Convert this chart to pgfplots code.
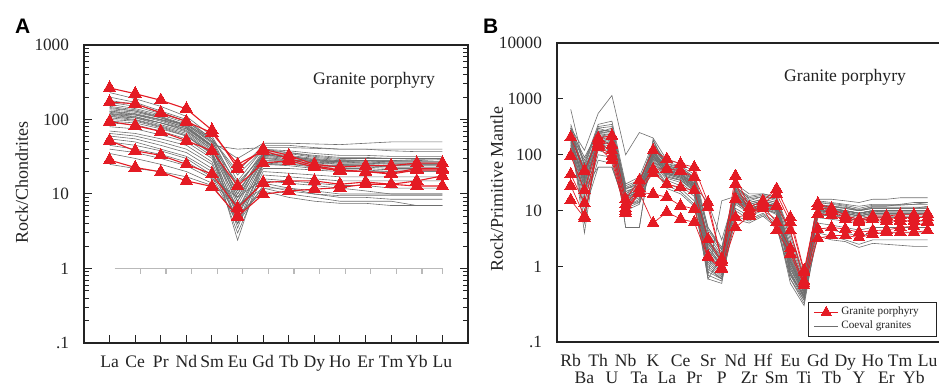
\documentclass[border=0pt]{standalone}
\usepackage{pgfplots}
\usepackage{pgfplotstable}
\pgfplotsset{compat=1.18}
\usepackage{fontspec}
\setmainfont{Liberation Serif}
\newfontfamily\panelfont{Liberation Sans}
\definecolor{porred}{RGB}{228,27,36}
\definecolor{coeval}{RGB}{110,110,110}
\definecolor{axcol}{RGB}{35,35,35}

% ---------- Panel A: coeval granites (chondrite normalised); one row per sample ----------
\pgfplotstableread{
La  Ce  Pr  Nd  Sm  Eu  Gd  Tb  Dy  Ho  Er  Tm  Yb  Lu
230 190 150 110 60  15  40  38  35  33  33  32  32  32
200 170 130 100 55  12  38  36  32  30  30  30  30  30
180 160 125 95  52  10  36  35  31  29  28  28  28  29
150 135 110 85  48  8   35  33  30  28  28  27  27  27
140 130 105 80  45  9   33  32  29  27  27  26  26  26
130 120 100 78  44  7   32  30  28  26  26  25  25  25
125 115 95  75  42  6   30  29  27  25  25  24  24  24
120 110 90  70  40  11  30  28  26  25  24  23  23  23
115 105 85  68  38  5   28  27  25  24  24  23  23  23
110 100 82  65  36  4   27  26  24  23  23  22  22  22
105 98  80  62  35  3.5 26  25  23  22  22  21  21  21
100 95  78  60  34  2.4 25  24  22  21  21  20  20  20
135 125 105 85  55  20  45  45  42  40  40  38  37  37
120 115 100 85  50  30  48  48  47  46  48  50  50  50
110 105 90  75  45  40  42  42  41  40  40  40  40  40
95  90  75  60  35  8   28  28  28  27  28  28  29  30
90  85  70  55  32  6   25  25  24  24  24  24  25  25
80  75  62  50  30  5   22  22  21  20  20  20  20  20
70  65  55  45  27  4   20  19  18  17  17  17  17  17
65  60  50  40  25  3   18  17  16  15  15  15  15  15
60  55  45  36  22  6   15  14  13  12  11  10  10  10
55  50  40  32  20  7   12  10  9   8   8   8   7   7
50  45  38  30  18  5   11  9   8   7.5 7.5 7   7   7
45  40  34  27  17  4   13  11  10  9   9   8.5 8.5 8.5
40  36  30  24  16  9   16  15  14  13  13  12  12  12
35  30  25  20  14  7   14  12  10  9.5 9.5 9.5 9.5 9.5
25  22  20  17  13  5   12  12  11  10  10  10  10  10
160 140 115 90  50  13  35  32  29  27  26  26  26  26
170 150 120 95  55  18  40  36  33  31  31  30  30  30
145 130 108 82  45  10  34  31  28  27  27  27  27  27
128 118 98  78  43  14  33  31  29  28  28  27  27  27
118 108 90  72  40  9   31  29  27  26  26  26  26  26
}\greyAraw
\pgfplotstabletranspose{\greyA}{\greyAraw}

% ---------- Panel A: granite porphyry ----------
\pgfplotstableread{
La   Ce   Pr   Nd  Sm   Eu   Gd   Tb  Dy   Ho   Er   Tm   Yb   Lu
265  222  181  139 72   22   40   33  25   23   24   24   26   26
171  163  123  94  66   25   38   30  24   21   20   19   22   22
94   83   69   52  38   12.8 26   28  23   20.5 20   18.5 21   21
52   38   33   25  18.5 6.5  14.2 15  15   13.5 14.5 13.5 15   17.5
28.5 22.7 19.8 15  12.6 5.0  9.9  11  11.6 12.2 13.5 13.5 12.8 12.8
}\redAraw
\pgfplotstabletranspose{\redA}{\redAraw}

% ---------- Panel B: coeval granites (primitive mantle normalised) ----------
\pgfplotstableread{
Rb  Ba  Th  U    Nb  Ta  K   La Ce Pr Sr  P   Nd Zr  Hf   Sm   Eu  Ti   Gd   Tb  Dy   Y   Ho   Er   Tm   Yb   Lu
650 60  300 250  25  30  150 70 60 40 3   1.5 25 15  18   15   2   0.5  14   13  12   10  12   12   13   13   14
300 120 550 1150 100 250 200 80 70 50 5   2   30 20  20   18   3   0.6  16   16  15   14  16   16   17   17   17
250 50  250 300  20  30  120 60 50 35 2.5 1.2 22 14  16   14   1.5 0.4  12   12  11   10  11   11   11   11   11
280 40  220 200  18  25  110 55 45 30 2   1   20 12  14   12   1.2 0.35 11   11  10   9   10   10   10   10   10
220 30  200 180  22  28  100 50 42 28 1.5 0.8 18 11  13   11   1   0.3  10   10  9    8   9    9    9    9    9
200 25  180 160  16  22  90  45 38 25 1.2 0.7 16 10  12   10   0.8 0.28 9.5  9   8.5  7.5 8.5  8.5  8.5  8.5  8.5
180 20  160 140  15  20  85  40 35 22 1   0.6 15 9   11   9    0.7 0.25 9    8.5 8    7   8    8    8    8    8
350 70  350 400  30  40  160 75 62 45 4   1.8 28 16  18   16   2.5 0.55 13   12  11   10  11   11   11   11   12
320 45  280 260  24  32  130 65 55 38 3   1.4 24 13  15   13   1.8 0.45 12   11  10   9   10   10   10   10   10
260 35  240 220  20  26  115 58 48 32 2.2 1.1 21 12  14   12   1.3 0.4  11   10.5 10  9   10   9.5  9.5  9.5  9.5
240 55  230 210  19  24  125 52 44 30 2.8 1.3 19 11  13   11.5 1.6 0.42 10   9.5 9    8   9    9    9    9    9
210 32  210 190  17  23  105 48 40 27 1.8 0.9 17 10.5 12.5 10.5 1.1 0.33 9.8 9.5 9    8   9    9    9    9    9
190 28  190 170  15  18  95  42 36 24 1.4 0.8 14 9.5 11.5 9.5  0.9 0.3  8.5  8   7.5  6.5 7.5  7.5  7.5  7.5  7.5
170 22  150 120  14  17  80  38 32 20 1.1 0.65 13 9  11   8.5  0.75 0.27 7.5 7   6.5  6   6.5  6.5  6.5  6.5  6.5
300 40  260 240  5   5   180 60 50 34 2.6 1.2 20 12  14   12   1.4 0.4  11   11  10   9   10   10   10   10   10
270 38  240 230  5   5   190 56 46 31 2.3 1.0 19 11  13   11   1.2 0.38 10   10  9.5  8.5 9.5  9.5  9.5  9.5  9.5
160 18  120 100  12  15  75  35 28 18 0.8 0.6 11 8   10   7    0.6 0.22 6    5.5 5    4.5 5    5    5    5    5
150 15  100 90   11  14  70  30 25 15 0.6 0.5 10 7   9    6    0.5 0.2  5    4.5 4    3.5 4    4    4    4    4
140 12  80  70   10  13  65  28 22 13 0.7 0.55 8 6.5 8.5  5.5  0.6 0.25 4    3.5 3    2.5 3    3    3    3    3
130 10  60  60   13  14  60  25 20 12 0.9 0.6 7  6   8    5    0.7 0.3  3.5  3   2.8  2.2 2.6  2.5  2.4  2.3  2.3
230 4   200 150  16  20  95  44 38 25 0.6 1.5 16 10  12   10   0.9 0.35 9    8.5 8    7   8    8    8    8    8
260 6   220 170  17  22  100 47 40 27 0.7 15  18 11  13   11   1   0.36 10   9.5 9    8   9    9    9    9    9
200 60  170 150  18  21  110 50 42 28 14  3   20 12  14   12   2   0.5  11   10.5 10  9   10   10   10   10   10
280 90  260 280  26  33  140 68 58 40 5   2.2 26 18  20   17   4   0.7  15   14  13   12  13   13   13   14   14
240 80  300 320  28  35  135 64 54 36 4.5 2   25 17  19   16   3.5 0.65 14   13.5 12.5 11 12.5 12.5 12.5 13   13
220 45  250 260  22  26  115 54 45 30 3.5 1.6 22 13  15   13   2.2 0.5  12   11.5 11  10  11   11   11   11   11
300 65  320 350  25  28  150 62 52 36 2.8 1.3 23 14  16   14   1.9 0.48 12.5 12  11.5 10.5 11.5 11.5 11.5 11.5 11.5
190 35  140 110  14  19  90  46 40 26 1.6 0.9 17 10  12   10   1.2 0.32 10.5 10  9.5  8.5 9.5  10   10   10   10
210 25  60  60   12  16  100 40 35 23 1.3 0.75 15 9  11   9    0.8 0.28 8.5  8   7.5  6.5 7.5  7.5  7.5  7.5  7.5
250 50  200 100  19  23  110 52 44 29 2.0 1.0 20 12  14   12   1.3 0.38 11   10.5 10  9   10   10   10   10   10
}\greyBraw
\pgfplotstabletranspose{\greyB}{\greyBraw}

% ---------- Panel B: granite porphyry ----------
\pgfplotstableread{
Rb   Ba   Th  U   Nb Ta K   La   Ce   Pr   Sr   P    Nd   Zr   Hf   Sm   Eu  Ti   Gd   Tb  Dy  Y   Ho  Er  Tm  Yb  Lu
205  52   200 220 16 35 120 84   69   60   14   1.35 42   11.5 15   24.5 7.6 0.85 13.5 11  8.2 7   8   8   8.5 8.5 8.8
96   23   180 150 13 25 55  56   52   40   11.5 1.3  30   10   13.5 20   6.2 0.8  12   10  7.6 6.6 7.6 7.2 7.5 7.5 7.6
45   13.5 160 120 11 22 47  30   26   23   3.1  1.2  16.3 9    12.5 12.3 4.4 0.55 8.8  8.2 7   6.2 7   6.6 6.6 6.6 6.6
28   8    150 95  10 21 20  17.4 12.3 10.8 1.5  0.95 7.6  8.5  12   6.2  2.1 0.5  4.7  5.0 4.7 4.1 4.4 4.5 5   5.3 6.2
15.5 7.5  140 80  9  21 6   9.4  7.1  6.2  1.45 0.9  5.0  8    11   4.4  1.7 0.46 3.2  3.6 3.6 3.3 3.8 4.1 4.1 4.1 4.4
}\redBraw
\pgfplotstabletranspose{\redB}{\redBraw}

\pgfplotsset{
  greyline/.style={coeval, line width=0.3pt, forget plot},
  tri/.style={mark=triangle*, mark options={solid, fill=porred, draw=porred, line width=0pt}},
}
\newcommand{\lo}[1]{\raisebox{-8.3pt}{#1}}

\begin{document}
\begin{tikzpicture}
\path[use as bounding box] (0pt,0pt) rectangle (469.5pt,192.5pt);

% ================= Panel A =================
\begin{axis}[
  at={(42pt,21pt)}, anchor=south west, scale only axis,
  width=192pt, height=149pt,
  xmin=-1, xmax=14,
  ymode=log, ymin=0.1, ymax=1000,
  ytick={0.1,1,10,100,1000},
  yticklabels={.1,1,10,100,1000},
  minor ytick={0.2,0.3,0.4,0.5,0.6,0.7,0.8,0.9,2,3,4,5,6,7,8,9,20,30,40,50,60,70,80,90,200,300,400,500,600,700,800,900},
  xtick={0,1,2,3,4,5,6,7,8,9,10,11,12,13},
  xticklabels={La,Ce,Pr,Nd,Sm,Eu,Gd,Tb,Dy,Ho,Er,Tm,Yb,Lu},
  tick align=inside, xtick pos=left, ytick pos=both,
  major tick length=4pt, minor tick length=2.6pt,
  tick style={axcol, line width=0.5pt},
  axis line style={axcol, line width=0.7pt},
  yticklabel style={font=\fontsize{8.6}{10}\selectfont, xshift=-4pt, text=axcol},
  xticklabel style={font=\fontsize{8.8}{10}\selectfont, anchor=base, yshift=-12.5pt, text=axcol},
]
\pgfplotsinvokeforeach{1,...,32}{
  \addplot[greyline] table[x expr=\coordindex, y index=#1]{\greyA};
}
\addplot[gray!55, line width=0.6pt, mark=|, mark size=1.4pt, mark indices={2,...,14},
  mark options={yshift=-1.4pt}, forget plot]
  coordinates {(0.2,1)(1.2,1)(2.2,1)(3.2,1)(4.2,1)(5.2,1)(6.2,1)(7.2,1)(8.2,1)(9.2,1)(10.2,1)(11.2,1)(12.2,1)(13,1)};
\pgfplotsinvokeforeach{1,...,5}{
  \addplot[porred, line width=0.55pt, tri, mark size=3.6pt, forget plot] table[x expr=\coordindex, y index=#1]{\redA};
}
\node[anchor=base east, font=\fontsize{8.8}{10}\selectfont, text=axcol] at (axis description cs:0.932,0.869) {Granite porphyry};
\end{axis}

% ================= Panel B =================
\begin{axis}[
  at={(278.5pt,21.5pt)}, anchor=south west, scale only axis,
  width=191.5pt, height=149.5pt,
  xmin=-1, xmax=26.9,
  ymode=log, ymin=0.0447, ymax=10000,
  ytick={0.0447,1,10,100,1000,10000},
  yticklabels={.1,1,10,100,1000,10000},
  minor ytick={},
  xtick={0,1,...,26},
  xticklabels={Rb,\lo{Ba},Th,\lo{U},Nb,\lo{Ta},K,\lo{La},Ce,\lo{Pr},Sr,\lo{P},Nd,\lo{Zr},Hf,\lo{Sm},Eu,\lo{Ti},Gd,\lo{Tb},Dy,\lo{Y},Ho,\lo{Er},Tm,\lo{Yb},Lu},
  tick align=inside, xtick pos=left, ytick pos=left,
  major tick length=3.2pt,
  major x tick style={draw=none},
  tick style={axcol, line width=0.5pt},
  axis line style={axcol, line width=0.7pt},
  yticklabel style={font=\fontsize{8.6}{10}\selectfont, xshift=-4pt, text=axcol},
  xticklabel style={font=\fontsize{8.8}{10}\selectfont, anchor=base, yshift=-12.3pt, text=axcol},
  legend style={at={(0.992,0.017)}, anchor=south east, draw=axcol, line width=0.6pt,
    font=\fontsize{5.6}{6.2}\selectfont, inner xsep=2.5pt, inner ysep=1pt, row sep=-1pt,
    nodes={inner sep=1.3pt, text=axcol}},
  legend cell align=left,
  legend image code/.code={\draw[mark repeat=2,mark phase=2,#1] plot coordinates {(0pt,0pt)(6pt,0pt)(12pt,0pt)};},
]
\pgfplotsinvokeforeach{1,...,30}{
  \addplot[greyline] table[x expr=\coordindex, y index=#1]{\greyB};
}
\pgfplotsinvokeforeach{1,...,5}{
  \addplot[porred, line width=0.35pt, tri, mark size=3.4pt, forget plot] table[x expr=\coordindex, y index=#1]{\redB};
}
\node[anchor=base east, font=\fontsize{8.8}{10}\selectfont, text=axcol] at (axis description cs:0.9295,0.870) {Granite porphyry};
\addlegendimage{porred, line width=0.5pt, tri, mark size=3pt}
\addlegendentry{Granite porphyry\hspace*{5pt}}
\addlegendimage{coeval, line width=0.4pt}
\addlegendentry{Coeval granites}
\end{axis}

% panel letters and axis titles
\node[font=\panelfont\bfseries\fontsize{10.5}{11}\selectfont] at (11.3pt,179.6pt) {A};
\node[font=\panelfont\bfseries\fontsize{10.5}{11}\selectfont] at (245.4pt,179.6pt) {B};
\node[rotate=90, font=\fontsize{9}{10}\selectfont, text=axcol] at (10.8pt,101pt) {Rock/Chondrites};
\node[rotate=90, font=\fontsize{9}{10}\selectfont, text=axcol] at (248.3pt,98pt) {Rock/Primitive Mantle};
\end{tikzpicture}
\end{document}
